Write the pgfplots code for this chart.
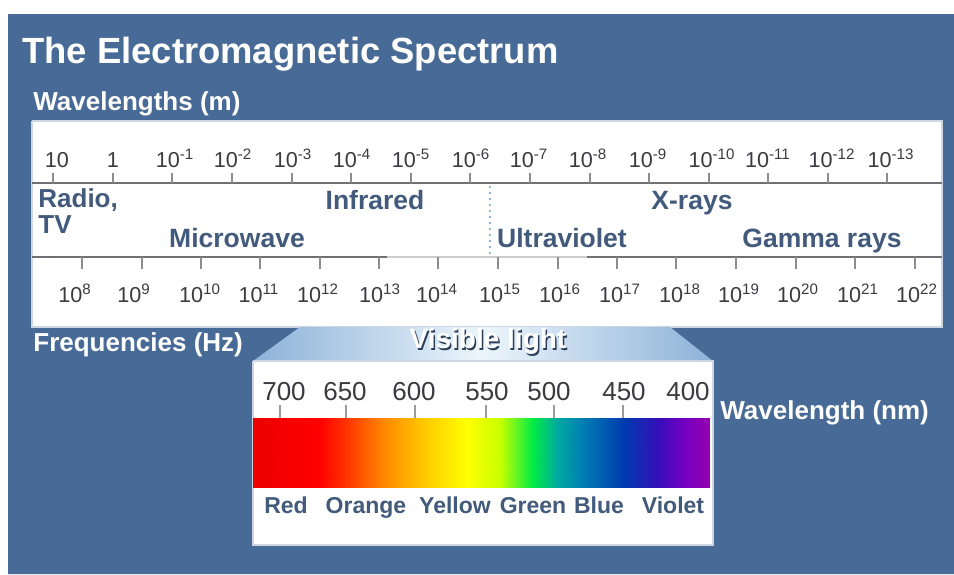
\documentclass[border=0pt]{standalone}
\usepackage{pgfplots}
\pgfplotsset{compat=1.18}
\usepackage{fontspec}
\setmainfont{Liberation Sans}
\definecolor{bg}{RGB}{72,106,150}
\definecolor{bandtxt}{RGB}{66,90,124}
\definecolor{numtxt}{RGB}{58,58,64}
\definecolor{rulec}{RGB}{112,112,118}
\definecolor{trapA}{RGB}{140,178,216}
\definecolor{trapB}{RGB}{236,245,252}
\definecolor{dotc}{RGB}{140,180,222}

\begin{document}
\begin{tikzpicture}
\begin{axis}[width=477pt, height=287pt, scale only axis,
  xmin=0, xmax=954, ymin=0, ymax=574, y dir=reverse,
  hide axis, clip=false,
  colormap={vis}{rgb255=(235,0,0) rgb255=(255,0,0) rgb255=(255,60,0)
    rgb255=(255,135,0) rgb255=(255,200,0) rgb255=(255,255,0)
    rgb255=(200,255,0) rgb255=(0,235,70) rgb255=(0,170,160)
    rgb255=(0,125,180) rgb255=(0,60,175) rgb255=(50,15,185)
    rgb255=(115,0,195) rgb255=(150,0,175)},
  point meta min=0, point meta max=13]

% page and blue background
\addplot[fill=white, draw=none] coordinates {(0,0)(954,0)(954,574)(0,574)(0,0)};
\addplot[fill=bg, draw=none] coordinates {(8,14)(954,14)(954,574)(8,574)(8,14)};

% upper white panel
\addplot[fill=white, draw={rgb,255:red,205;green,214;blue,226}, line width=0.6pt]
  coordinates {(32,121)(942,121)(942,327)(32,327)(32,121)};

% rules
\addplot[rulec, line width=1pt] coordinates {(32,183)(942,183)};
\addplot[rulec, line width=1pt] coordinates {(32,257)(387,257)};
\addplot[rulec!35, line width=1pt] coordinates {(387,257)(587,257)};
\addplot[rulec, line width=1pt] coordinates {(587,257)(942,257)};
\addplot[dotc, dotted, line width=1pt] coordinates {(490,186)(490,255)};

% wavelength ticks (m)
\addplot[rulec!80, line width=0.6pt, unbounded coords=jump] table {
x y
53 173
53 183
nan nan
113 173
113 183
nan nan
172 173
172 183
nan nan
232 173
232 183
nan nan
292 173
292 183
nan nan
351 173
351 183
nan nan
411 173
411 183
nan nan
470 173
470 183
nan nan
530 173
530 183
nan nan
590 173
590 183
nan nan
649 173
649 183
nan nan
709 173
709 183
nan nan
768 173
768 183
nan nan
828 173
828 183
nan nan
887 173
887 183
};

% wavelength labels (m)
\addplot[draw=none, mark=none, nodes near coords, point meta=explicit symbolic,
  nodes near coords style={anchor=base, inner sep=0pt, text=numtxt,
    font=\fontsize{10.8}{12}\selectfont}] table[meta=lab] {
x y lab
57 167 10
113 167 1
175 167 10\textsuperscript{-1}
233 167 10\textsuperscript{-2}
293 167 10\textsuperscript{-3}
352 167 10\textsuperscript{-4}
411 167 10\textsuperscript{-5}
471 167 10\textsuperscript{-6}
529 167 10\textsuperscript{-7}
588 167 10\textsuperscript{-8}
648 167 10\textsuperscript{-9}
712 167 10\textsuperscript{-10}
768 167 10\textsuperscript{-11}
832 167 10\textsuperscript{-12}
891 167 10\textsuperscript{-13}
};

% frequency ticks (Hz)
\addplot[rulec!80, line width=0.6pt, unbounded coords=jump] table {
x y
82 257
82 269
nan nan
142 257
142 269
nan nan
201 257
201 269
nan nan
260 257
260 269
nan nan
320 257
320 269
nan nan
379 257
379 269
nan nan
438 257
438 269
nan nan
498 257
498 269
nan nan
558 257
558 269
nan nan
617 257
617 269
nan nan
676 257
676 269
nan nan
736 257
736 269
nan nan
796 257
796 269
nan nan
855 257
855 269
nan nan
915 257
915 269
};

% frequency labels (Hz)
\addplot[draw=none, mark=none, nodes near coords, point meta=explicit symbolic,
  nodes near coords style={anchor=base, inner sep=0pt, text=numtxt,
    font=\fontsize{10.8}{12}\selectfont}] table[meta=lab] {
x y lab
75 302 10\textsuperscript{8}
134 302 10\textsuperscript{9}
200 302 10\textsuperscript{10}
259 302 10\textsuperscript{11}
318 302 10\textsuperscript{12}
380 302 10\textsuperscript{13}
437 302 10\textsuperscript{14}
500 302 10\textsuperscript{15}
560 302 10\textsuperscript{16}
620 302 10\textsuperscript{17}
680 302 10\textsuperscript{18}
739 302 10\textsuperscript{19}
798 302 10\textsuperscript{20}
858 302 10\textsuperscript{21}
917 302 10\textsuperscript{22}
};

% band names
\node[anchor=base west, inner sep=0pt, text=bandtxt, font=\fontsize{13}{12}\bfseries\selectfont] at (axis cs:38,207) {Radio,};
\node[anchor=base west, inner sep=0pt, text=bandtxt, font=\fontsize{13}{12}\bfseries\selectfont] at (axis cs:38,233) {TV};
\node[anchor=base, inner sep=0pt, text=bandtxt, font=\fontsize{13.25}{12}\bfseries\selectfont] at (axis cs:375,209) {Infrared};
\node[anchor=base, inner sep=0pt, text=bandtxt, font=\fontsize{13.25}{12}\bfseries\selectfont] at (axis cs:692,209) {X-rays};
\node[anchor=base, inner sep=0pt, text=bandtxt, font=\fontsize{13.25}{12}\bfseries\selectfont] at (axis cs:237,247) {Microwave};
\node[anchor=base, inner sep=0pt, text=bandtxt, font=\fontsize{13.25}{12}\bfseries\selectfont] at (axis cs:562,247) {Ultraviolet};
\node[anchor=base, inner sep=0pt, text=bandtxt, font=\fontsize{13.25}{12}\bfseries\selectfont] at (axis cs:822,247) {Gamma rays};

% visible light trapezoid
\addplot[draw=none, left color=trapA, right color=trapA, middle color=trapB]
  coordinates {(300,327)(670,327)(713,361)(253,361)(300,327)};

% visible light box
\addplot[fill=white, draw={rgb,255:red,205;green,214;blue,226}, line width=0.6pt]
  coordinates {(253,361)(713,361)(713,545)(253,545)(253,361)};

% spectrum bar (colour stops 0..13)
\addplot[patch, patch type=rectangle, shader=interp, point meta=explicit] table[meta=c] {
x y c
253 418 0
320 418 1
320 487 1
253 487 0
320 418 1
350 418 2
350 487 2
320 487 1
350 418 2
383 418 3
383 487 3
350 487 2
383 418 3
423 418 4
423 487 4
383 487 3
423 418 4
467 418 5
467 487 5
423 487 4
467 418 5
500 418 6
500 487 6
467 487 5
500 418 6
533 418 7
533 487 7
500 487 6
533 418 7
557 418 8
557 487 8
533 487 7
557 418 8
583 418 9
583 487 9
557 487 8
583 418 9
623 418 10
623 487 10
583 487 9
623 418 10
657 418 11
657 487 11
623 487 10
657 418 11
683 418 12
683 487 12
657 487 11
683 418 12
710 418 13
710 487 13
683 487 12
};

% visible ticks (nm)
\addplot[rulec!70, line width=0.6pt, unbounded coords=jump] table {
x y
280 405
280 418
nan nan
346 405
346 418
nan nan
415 405
415 418
nan nan
486 405
486 418
nan nan
554 405
554 418
nan nan
623 405
623 418
};

% visible labels (nm)
\addplot[draw=none, mark=none, nodes near coords, point meta=explicit symbolic,
  nodes near coords style={anchor=base, inner sep=0pt, text=numtxt,
    font=\fontsize{13}{14}\selectfont}] table[meta=lab] {
x y lab
284 400 700
345 400 650
414 400 600
487 400 550
549 400 500
624 400 450
688 400 400
};

% colour names
\node[anchor=base, inner sep=0pt, text=bandtxt, font=\fontsize{11.5}{12}\bfseries\selectfont] at (axis cs:286,513) {Red};
\node[anchor=base, inner sep=0pt, text=bandtxt, font=\fontsize{11.5}{12}\bfseries\selectfont] at (axis cs:366,513) {Orange};
\node[anchor=base, inner sep=0pt, text=bandtxt, font=\fontsize{11.5}{12}\bfseries\selectfont] at (axis cs:455,513) {Yellow};
\node[anchor=base, inner sep=0pt, text=bandtxt, font=\fontsize{11.5}{12}\bfseries\selectfont] at (axis cs:533,513) {Green};
\node[anchor=base, inner sep=0pt, text=bandtxt, font=\fontsize{11.5}{12}\bfseries\selectfont] at (axis cs:599,513) {Blue};
\node[anchor=base, inner sep=0pt, text=bandtxt, font=\fontsize{11.5}{12}\bfseries\selectfont] at (axis cs:673,513) {Violet};

% titles and labels
\node[anchor=base west, inner sep=0pt, text=white, font=\fontsize{18.2}{20}\bfseries\selectfont] at (axis cs:22,63) {The Electromagnetic Spectrum};
\node[anchor=base west, inner sep=0pt, text=white, font=\fontsize{13}{14}\bfseries\selectfont] at (axis cs:33,110) {Wavelengths (m)};
\node[anchor=base west, inner sep=0pt, text=white, font=\fontsize{13}{14}\bfseries\selectfont] at (axis cs:33,351) {Frequencies (Hz)};
\node[anchor=base west, inner sep=0pt, text=white, font=\fontsize{13}{14}\bfseries\selectfont] at (axis cs:720,419) {Wavelength (nm)};
\node[anchor=base, inner sep=0pt, text=bg!60!black, font=\fontsize{14}{14}\bfseries\selectfont] at (axis cs:489.5,350) {Visible light};
\node[anchor=base, inner sep=0pt, text=white, font=\fontsize{14}{14}\bfseries\selectfont] at (axis cs:488,348.5) {Visible light};

\end{axis}
\end{tikzpicture}
\end{document}
